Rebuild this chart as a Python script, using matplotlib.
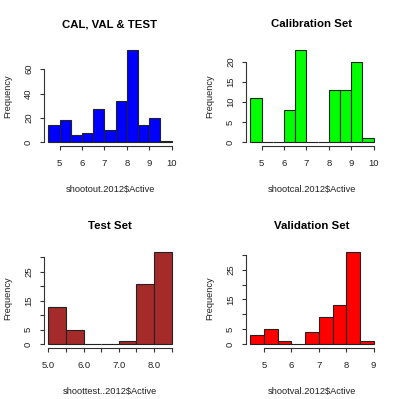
import numpy as np
import matplotlib
matplotlib.use("Agg")
import matplotlib.pyplot as plt

plt.rcParams['font.family'] = ['Liberation Sans', 'DejaVu Sans']

# bin edges and counts
all_edges = [4.5, 5.0, 5.5, 6.0, 6.5, 7.0, 7.5, 8.0, 8.5, 9.0, 9.5, 10.0]
all_counts = [14, 18, 6, 8, 27, 10, 34, 76, 14, 20, 1]

cal_edges = [4.5, 5.0, 5.5, 6.0, 6.5, 7.0, 7.5, 8.0, 8.5, 9.0, 9.5, 10.0]
cal_counts = [11, 0, 0, 8, 23, 0, 0, 13, 13, 20, 1]

test_edges = [5.0, 5.5, 6.0, 6.5, 7.0, 7.5, 8.0, 8.5]
test_counts = [13, 5, 0, 0, 1, 21, 32]

val_edges = [4.5, 5.0, 5.5, 6.0, 6.5, 7.0, 7.5, 8.0, 8.5, 9.0]
val_counts = [3, 5, 1, 0, 4, 9, 13, 31, 1]

panels = [
    # edges, counts, colour, title, xlabel, xticks, xticklabels, yticks, yticklabels
    (all_edges, all_counts, "blue", "CAL, VAL & TEST", "shootout.2012$Active",
     [5, 6, 7, 8, 9, 10], ["5", "6", "7", "8", "9", "10"],
     [0, 20, 40, 60], ["0", "20", "40", "60"]),
    (cal_edges, cal_counts, "#00ff00", "Calibration Set", "shootcal.2012$Active",
     [5, 6, 7, 8, 9, 10], ["5", "6", "7", "8", "9", "10"],
     [0, 5, 10, 15, 20], ["0", "5", "10", "15", "20"]),
    (test_edges, test_counts, "#a52a2a", "Test Set", "shoottest..2012$Active",
     [5.0, 5.5, 6.0, 6.5, 7.0, 7.5, 8.0, 8.5], ["5.0", "", "6.0", "", "7.0", "", "8.0", ""],
     [0, 5, 10, 15, 20, 25, 30], ["0", "5", "", "15", "", "25", ""]),
    (val_edges, val_counts, "red", "Validation Set", "shootval.2012$Active",
     [5, 6, 7, 8, 9], ["5", "6", "7", "8", "9"],
     [0, 5, 10, 15, 20, 25, 30], ["0", "5", "", "15", "", "25", ""]),
]

W, H = 400, 399
fig = plt.figure(figsize=(W / 100, H / 100), dpi=100)

# plot regions in pixels: (left, top)
boxes = [(43.5, 46), (245.5, 46), (43.5, 248), (245.5, 248)]
bw, bh = 133, 100

for (edges, counts, col, title, xlab, xt, xtl, yt, ytl), (l, t) in zip(panels, boxes):
    ax = fig.add_axes([l / W, 1 - (t + bh) / H, bw / W, bh / H])
    edges = np.array(edges)
    ax.bar(edges[:-1], counts, width=np.diff(edges), align="edge",
           color=col, edgecolor="#222222", linewidth=0.8)

    # R style 4% padding
    xr = edges[-1] - edges[0]
    ax.set_xlim(edges[0] - 0.04 * xr, edges[-1] + 0.04 * xr)
    ym = max(counts)
    ax.set_ylim(-0.04 * ym, 1.04 * ym)

    for s in ["top", "right"]:
        ax.spines[s].set_visible(False)
    ax.spines["left"].set_bounds(yt[0], yt[-1])
    ax.spines["bottom"].set_bounds(xt[0], xt[-1])
    for s in ["left", "bottom"]:
        ax.spines[s].set_linewidth(0.8)
        ax.spines[s].set_color("#333333")

    ax.set_xticks(xt)
    ax.set_xticklabels(xtl)
    ax.set_yticks(yt)
    ax.set_yticklabels(ytl, rotation=90, va="center")
    ax.tick_params(length=3, width=0.8, color="#333333", labelsize=6.8,
                   labelcolor="#222222")
    ax.tick_params(axis="x", pad=6.5)
    ax.tick_params(axis="y", pad=4.5)

    ax.set_title(title, fontsize=8.2, fontweight="bold", pad=13.5)
    ax.set_xlabel(xlab, fontsize=6.7, labelpad=12, color="#222222")
    ax.set_ylabel("Frequency", fontsize=6.7, labelpad=8.5, color="#222222")

fig.savefig("out.png", dpi=100)
